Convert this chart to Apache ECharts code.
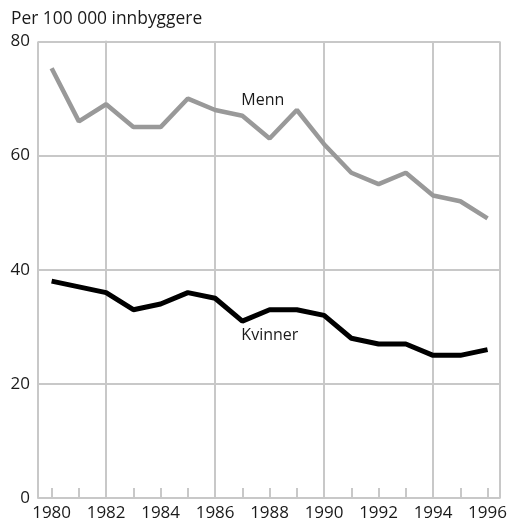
<!DOCTYPE html>
<html>
<head>
<meta charset="UTF-8" />
<title>Per 100 000 innbyggere</title>
<script src="https://cdn.jsdelivr.net/npm/echarts@6/dist/echarts.min.js"></script>
<style>
  html, body { margin: 0; padding: 0; background: #fff; }
</style>
</head>
<body>
<div id="main" style="width: 510px;height:522px;"></div>
<script type="text/javascript">

    // år
    var years = [1980, 1981, 1982, 1983, 1984, 1985, 1986, 1987, 1988,
                 1989, 1990, 1991, 1992, 1993, 1994, 1995, 1996];
    // menn per 100 000
    var menn = [75.3, 66, 69, 65, 65, 70, 68, 67, 63, 68, 62, 57, 55, 57, 53, 52, 49];
    // kvinner per 100 000
    var kvinner = [38, 37, 36, 33, 34, 36, 35, 31, 33, 33, 32, 28, 27, 27, 25, 25, 26];
    // y-akse
    var yTicks = [0, 20, 40, 60, 80];

    var labelYear = 1987;
    var gridColor = '#c8c8c8';
    var font = '"Open Sans", "Noto Sans", sans-serif';

    function toPoints(values, name, pos, offset) {
        return years.map(function (y, i) {
            var item = { value: [y, values[i]] };
            if (y === labelYear) {
                item.label = {
                    show: true,
                    position: pos,
                    align: 'left',
                    offset: offset,
                    formatter: name,
                    fontFamily: font,
                    fontSize: 16,
                    color: '#1a1a1a'
                };
            }
            return item;
        });
    }

    var option = {
        animation: false,
        title: {
            text: 'Per 100 000 innbyggere',
            left: 6,
            top: 6,
            textStyle: { fontFamily: font, fontSize: 17.4, fontWeight: 'normal', color: '#1a1a1a' }
        },
        grid: { left: 38, top: 41.5, right: 9, bottom: 23.3, containLabel: false },
        xAxis: [{
            type: 'value',
            min: 1979.5,
            max: 1996.45,
            splitNumber: 17,
            minInterval: 1,
            maxInterval: 1,
            axisLine: { show: true, onZero: false, lineStyle: { color: gridColor, width: 2 } },
            axisTick: { show: true, inside: true, length: 10, lineStyle: { color: gridColor, width: 2 } },
            splitLine: { show: false },
            axisLabel: {
                showMinLabel: false,
                showMaxLabel: false,
                margin: 7,
                fontFamily: font,
                fontSize: 17,
                color: '#1a1a1a',
                formatter: function (v) { return v % 2 === 0 ? String(v) : ''; }
            }
        }, {
            // loddrette rutenettlinjer hvert fjerde år (år - 1982)
            type: 'value',
            position: 'bottom',
            min: 1979.5 - 1982,
            max: 1996.45 - 1982,
            splitNumber: 4,
            minInterval: 4,
            maxInterval: 4,
            axisLine: { show: false },
            axisTick: { show: false },
            axisLabel: { show: false },
            splitLine: { show: true, lineStyle: { color: gridColor, width: 2 } }
        }],
        yAxis: {
            type: 'value',
            min: yTicks[0],
            max: yTicks[yTicks.length - 1],
            interval: 20,
            axisLine: { show: true, lineStyle: { color: gridColor, width: 2 } },
            axisTick: { show: false },
            splitLine: { show: true, lineStyle: { color: gridColor, width: 2 } },
            axisLabel: { margin: 8, fontFamily: font, fontSize: 17, color: '#1a1a1a' }
        },
        series: [{
            name: 'Menn',
            type: 'line',
            xAxisIndex: 0,
            symbol: 'circle',
            symbolSize: 0,
            showSymbol: true,
            lineStyle: { color: '#999999', width: 4.5 },
            itemStyle: { color: '#999999' },
            data: toPoints(menn, 'Menn', 'top', [-1, -2])
        }, {
            name: 'Kvinner',
            type: 'line',
            xAxisIndex: 0,
            symbol: 'circle',
            symbolSize: 0,
            showSymbol: true,
            lineStyle: { color: '#000000', width: 5 },
            itemStyle: { color: '#000000' },
            data: toPoints(kvinner, 'Kvinner', 'bottom', [-1, 1])
        }]
    };

    var myChart = echarts.init(document.getElementById('main'));
    myChart.setOption(option);
</script>
</body>
</html>
